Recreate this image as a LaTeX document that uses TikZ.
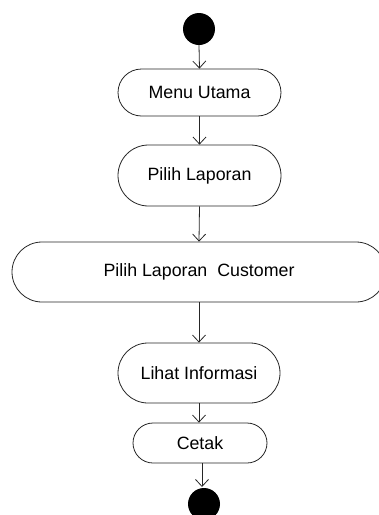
\documentclass[tikz,border=0pt]{standalone}
\usepackage{fontspec}
\setmainfont{Liberation Sans}
\usetikzlibrary{shapes.misc,arrows.meta}
\tikzset{
  act/.style={rounded rectangle, draw=black!85, line width=0.8pt, fill=white, inner sep=0pt, font=\fontsize{17.8}{20}\selectfont},
  dot/.style={circle, fill=black, inner sep=0pt, minimum size=32pt},
  flow/.style={draw=black!85, line width=0.8pt, -{Straight Barb[length=7pt,width=13pt]}}
}
\begin{document}
\begin{tikzpicture}[x=1pt,y=-1pt]
\useasboundingbox (0,0) rectangle (379,515);
\clip (0,0) rectangle (379,515);
\node[dot] (start) at (199,29) {};
\node[act, minimum width=163pt, minimum height=47pt] (menu) at (199.5,92.5) {Menu Utama};
\node[act, minimum width=163pt, minimum height=61pt] (pilih) at (199.5,175.5) {Pilih Laporan};
\node[act, minimum width=374pt, minimum height=60pt] (cust) at (199,272) {Pilih Laporan\ \ Customer};
\node[act, minimum width=162pt, minimum height=60pt] (lihat) at (199,373) {Lihat Informasi};
\node[act, minimum width=134pt, minimum height=40pt] (cetak) at (200,443) {Cetak};
\node[dot] (end) at (204,504) {};
\coordinate (c1) at (202,463);
\coordinate (c2) at (202,487);
\draw[flow] (start.south) -- (menu.north);
\draw[flow] (menu.south) -- (pilih.north);
\draw[flow] (pilih.south) -- (cust.north);
\draw[flow] (cust.south) -- (lihat.north);
\draw[flow] (lihat.south) -- (lihat.south |- cetak.north);
\draw[flow] (c1) -- (c2);
\end{tikzpicture}
\end{document}
